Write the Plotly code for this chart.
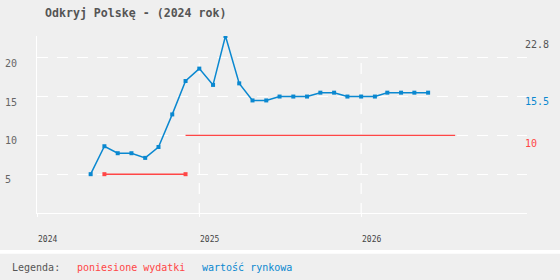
import plotly.graph_objects as go

# ---- data ----
market_dates = [
    "2024-05-01", "2024-06-01", "2024-07-01", "2024-08-01", "2024-09-01", "2024-10-01",
    "2024-11-01", "2024-12-01", "2025-01-01", "2025-02-01", "2025-03-01", "2025-04-01",
    "2025-05-01", "2025-06-01", "2025-07-01", "2025-08-01", "2025-09-01", "2025-10-01",
    "2025-11-01", "2025-12-01", "2026-01-01", "2026-02-01", "2026-03-01", "2026-04-01",
    "2026-05-01", "2026-06-01",
]
market_values = [
    5.0, 8.6, 7.7, 7.7, 7.1, 8.5,
    12.7, 17.0, 18.6, 16.5, 22.8, 16.7,
    14.5, 14.5, 15.0, 15.0, 15.0, 15.5,
    15.5, 15.0, 15.0, 15.0, 15.5, 15.5,
    15.5, 15.5,
]
expense_dates_1 = ["2024-06-01", "2024-12-01"]
expense_values_1 = [5, 5]
expense_dates_2 = ["2024-12-01", "2026-08-01"]
expense_values_2 = [10, 10]

y_ticks = [5, 10, 15, 20]
x_ticks = ["2024-01-01", "2025-01-01", "2026-01-01"]
x_tick_text = ["2024", "2025", "2026"]

title_text = "Odkryj Polskę - (2024 rok)"
legend_title = "Legenda:"
name_expense = "poniesione wydatki"
name_market = "wartość rynkowa"

# ---- style ----
BG = "#efefef"
BLUE = "#0a88d0"
RED = "#ff4646"
GRAY = "#555555"
FONT = "DejaVu Sans Mono"

W, H = 560, 280
L, R, T, B = 37, 33, 36, 67
PW = W - L - R
PH = H - T - B

def px_x(px):
    return (px - L) / PW

def px_y(py):
    return (H - B - py) / PH

fig = go.Figure()

fig.add_trace(go.Scatter(
    x=expense_dates_1, y=expense_values_1, mode="lines+markers", name=name_expense,
    line=dict(color=RED, width=1.5), marker=dict(symbol="square", size=4, color=RED),
    showlegend=False,
))
fig.add_trace(go.Scatter(
    x=expense_dates_2, y=expense_values_2, mode="lines", name=name_expense,
    line=dict(color=RED, width=1.2), showlegend=False,
))
fig.add_trace(go.Scatter(
    x=market_dates, y=market_values, mode="lines+markers", name=name_market,
    line=dict(color=BLUE, width=1.5), marker=dict(symbol="square", size=4, color=BLUE),
    showlegend=False,
))

shapes = []
# vertical dashed grid lines (partial height)
for d in x_ticks[1:]:
    shapes.append(dict(type="line", xref="x", yref="paper", x0=d, x1=d,
                       y0=px_y(63), y1=px_y(216.5),
                       line=dict(color="white", width=1.2, dash="11px,9px"), layer="below"))
# separator band
shapes.append(dict(type="rect", xref="paper", yref="paper",
                   x0=px_x(-5), x1=px_x(565), y0=px_y(250), y1=px_y(253.7),
                   fillcolor="white", line=dict(width=0), layer="below"))

annotations = []
# y tick labels (left aligned)
for v in y_ticks:
    annotations.append(dict(xref="paper", yref="y", x=px_x(3), y=v, text=str(v),
                            xanchor="left", yanchor="top", yshift=2, showarrow=False,
                            font=dict(family=FONT, size=10, color="#666666")))
# x tick labels
for d, t in zip(x_ticks, x_tick_text):
    annotations.append(dict(xref="x", yref="paper", x=d, y=px_y(239), text=t,
                            xanchor="left", yanchor="middle", showarrow=False, xshift=-1,
                            font=dict(family=FONT, size=8, color="#444444")))
# right value labels
annotations.append(dict(xref="paper", yref="y", x=px_x(523), y=max(market_values),
                        text=f"{max(market_values):g}", xanchor="left", yanchor="top", yshift=-1,
                        showarrow=False, font=dict(family=FONT, size=10, color=GRAY)))
annotations.append(dict(xref="paper", yref="y", x=px_x(523), y=market_values[-1],
                        text=f"{market_values[-1]:g}", xanchor="left", yanchor="top", yshift=-1,
                        showarrow=False, font=dict(family=FONT, size=10, color=BLUE)))
annotations.append(dict(xref="paper", yref="y", x=px_x(523), y=expense_values_2[-1],
                        text=f"{expense_values_2[-1]:g}", xanchor="left", yanchor="top", yshift=-1,
                        showarrow=False, font=dict(family=FONT, size=10, color=RED)))
# legend texts
for txt, xpx, col in [(legend_title, 10, GRAY), (name_expense, 75, RED), (name_market, 200, BLUE)]:
    annotations.append(dict(xref="paper", yref="paper", x=px_x(xpx), y=px_y(267.5), text=txt,
                            xanchor="left", yanchor="middle", showarrow=False,
                            font=dict(family=FONT, size=10, color=col)))

fig.update_layout(
    width=W, height=H,
    margin=dict(l=L, r=R, t=T, b=B, pad=0),
    paper_bgcolor=BG, plot_bgcolor=BG,
    title=dict(text=f"<b>{title_text}</b>", x=px_x(45), xref="paper", xanchor="left",
               y=1 - 12.5 / H, yref="container", yanchor="middle",
               font=dict(family=FONT, size=11.6, color=GRAY)),
    xaxis=dict(type="date", range=["2024-01-01", "2027-01-10"],
               tickvals=x_ticks, showticklabels=False, showgrid=False, zeroline=False,
               showline=True, linecolor="white", linewidth=1.2,
               ticks="outside", ticklen=3, tickcolor="white", tickwidth=1.2),
    yaxis=dict(range=[0, 22.8], tickvals=y_ticks, showticklabels=False,
               showgrid=True, gridcolor="white", gridwidth=1.2, griddash="11px,9px",
               zeroline=False, showline=True, linecolor="white", linewidth=1.2, ticks=""),
    shapes=shapes, annotations=annotations,
    showlegend=False,
)

fig.write_html("out.html")
